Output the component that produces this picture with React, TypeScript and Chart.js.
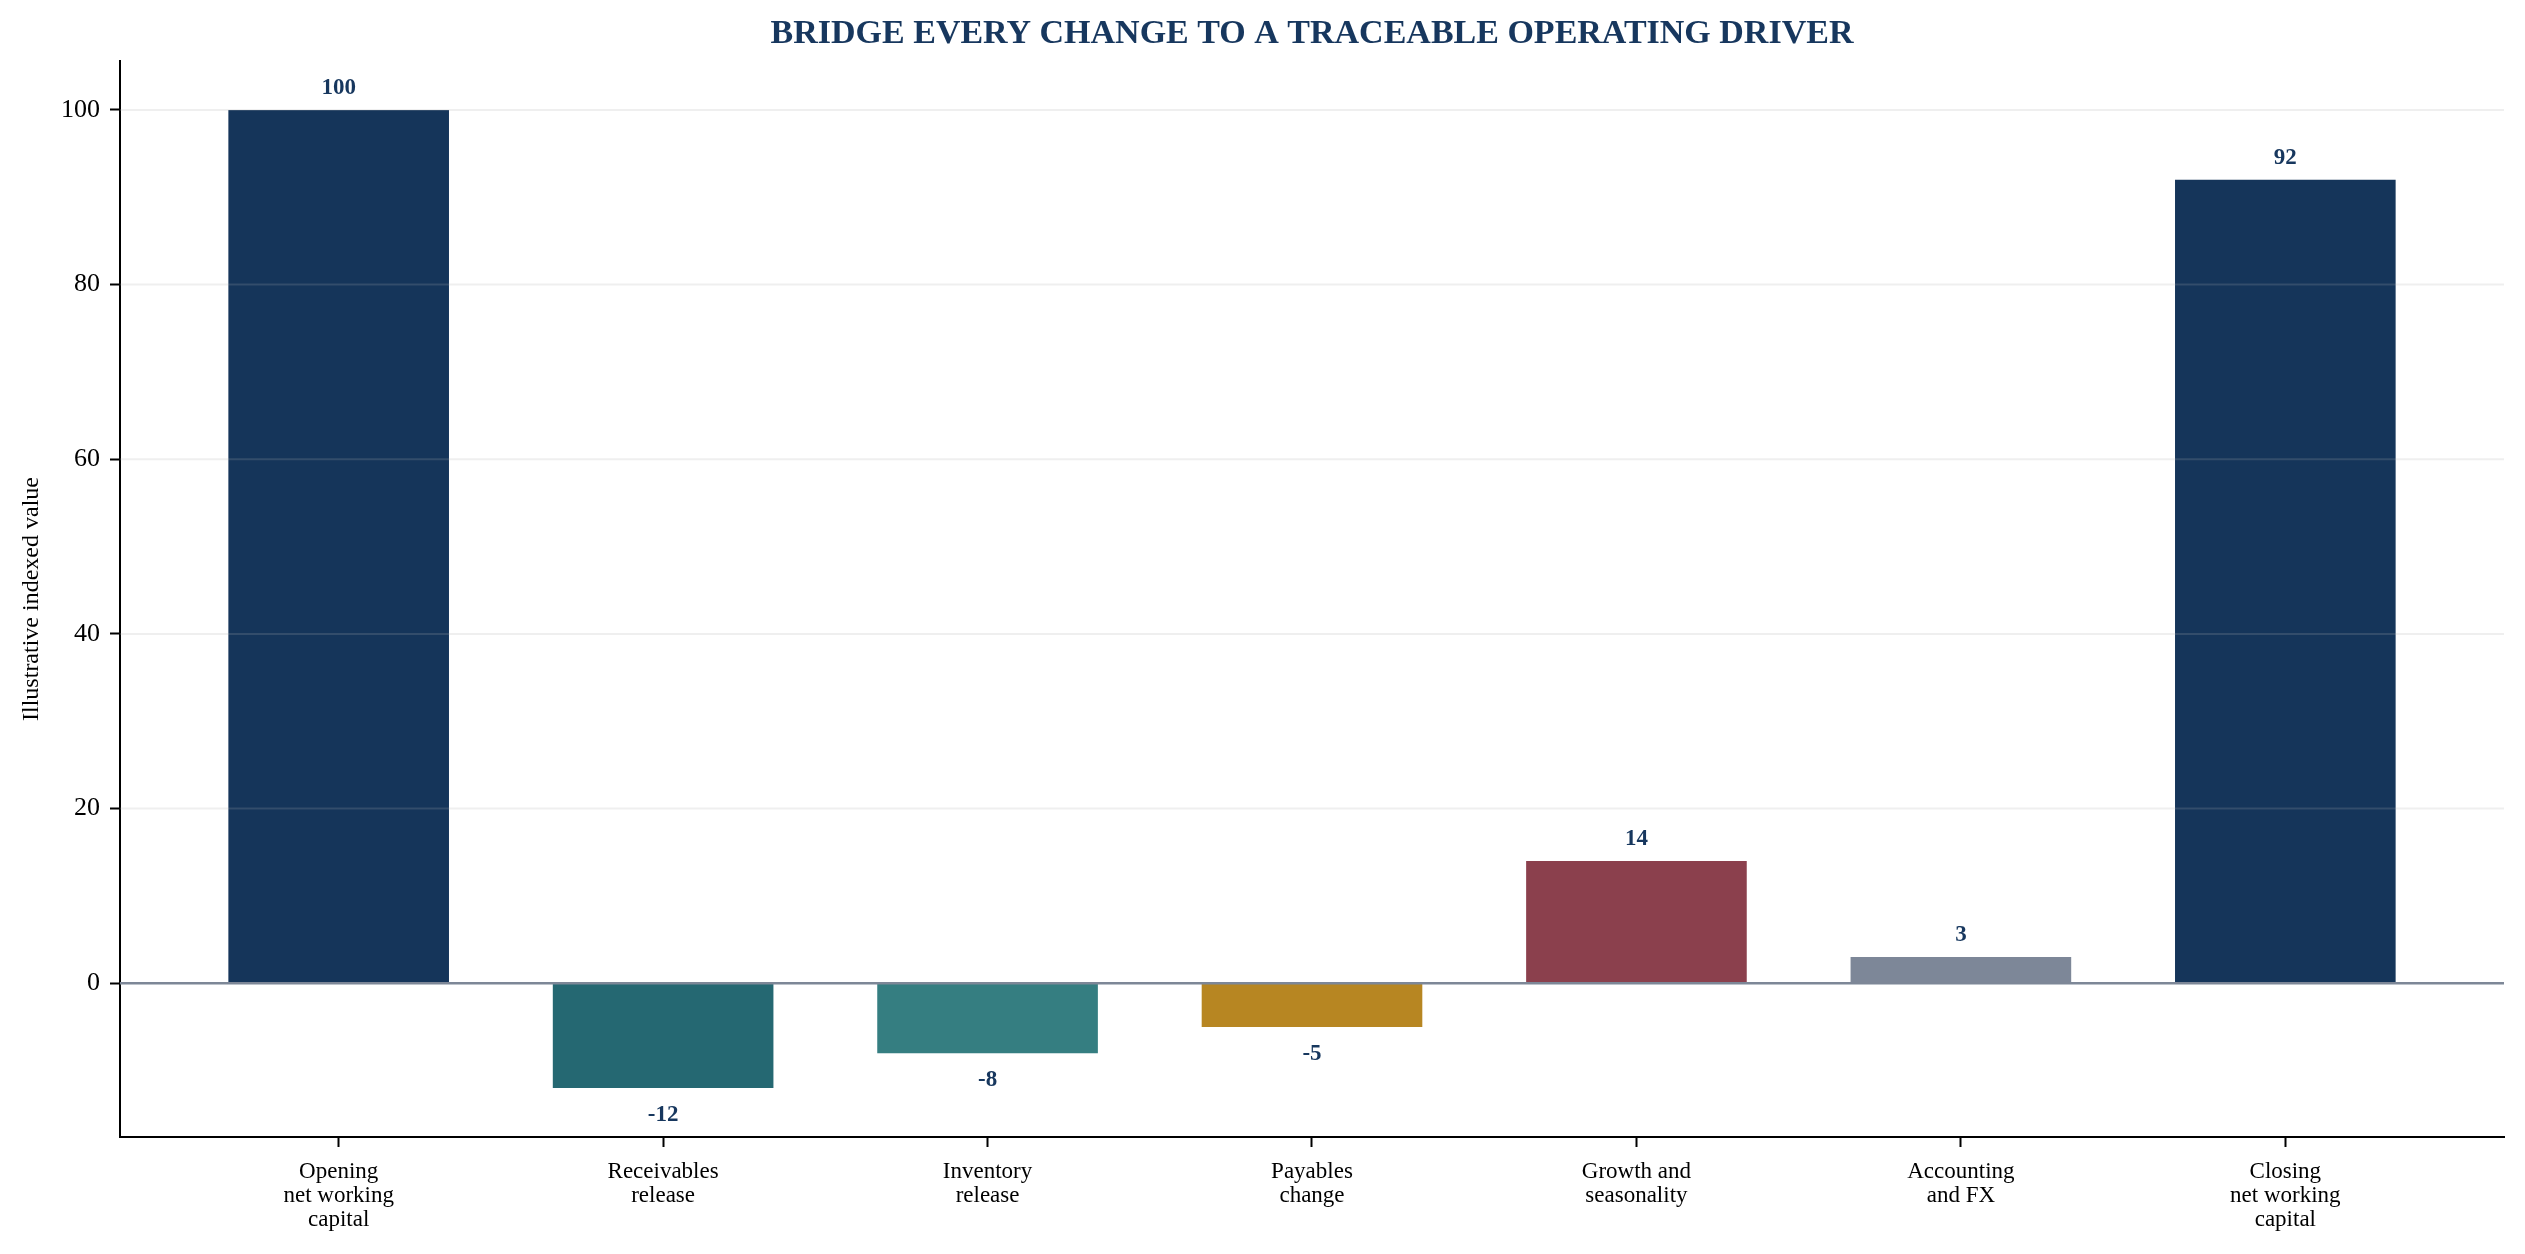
import React, { useEffect, useRef } from "react";
import { Chart, registerables } from "chart.js";

Chart.register(...registerables);

const TITLE = "BRIDGE EVERY CHANGE TO A TRACEABLE OPERATING DRIVER";
const Y_LABEL = "Illustrative indexed value";
const categories: string[][] = [
  ["Opening", "net working", "capital"],
  ["Receivables", "release"],
  ["Inventory", "release"],
  ["Payables", "change"],
  ["Growth and", "seasonality"],
  ["Accounting", "and FX"],
  ["Closing", "net working", "capital"],
];
const values: number[] = [100, -12, -8, -5, 14, 3, 92];
const barColors: string[] = ["#15355a", "#256872", "#357e81", "#b78622", "#8b404d", "#7d8798", "#15355a"];
const yTicks: number[] = [0, 20, 40, 60, 80, 100];

const SERIF = '"Liberation Serif", "Times New Roman", "DejaVu Serif", serif';
const NAVY = "#17375e";

export default function App() {
  const ref = useRef<HTMLCanvasElement | null>(null);

  useEffect(() => {
    if (!ref.current) return;
    const overlay = {
      id: "overlay",
      afterDatasetsDraw(chart: any) {
        const { ctx, chartArea, scales } = chart;
        const y = scales.y;
        ctx.save();
        ctx.strokeStyle = "rgba(176,176,176,0.2)";
        ctx.lineWidth = 2;
        yTicks.forEach((t) => {
          if (t === 0) return;
          const py = y.getPixelForValue(t);
          ctx.beginPath();
          ctx.moveTo(chartArea.left, py);
          ctx.lineTo(chartArea.right, py);
          ctx.stroke();
        });
        const z = y.getPixelForValue(0);
        ctx.strokeStyle = "#7d8797";
        ctx.lineWidth = 2.6;
        ctx.beginPath();
        ctx.moveTo(chartArea.left, z);
        ctx.lineTo(chartArea.right, z);
        ctx.stroke();
        const meta = chart.getDatasetMeta(0);
        ctx.fillStyle = NAVY;
        ctx.font = `bold 23px ${SERIF}`;
        ctx.textAlign = "center";
        ctx.textBaseline = "middle";
        meta.data.forEach((bar: any, i: number) => {
          const v = values[i];
          const py = v >= 0 ? bar.y - 22 : bar.y + 27;
          ctx.fillText(String(v), bar.x, py);
        });
        ctx.restore();
      },
    };

    const chart = new Chart(ref.current, {
      type: "bar",
      data: {
        datasets: [
          {
            data: values.map((v, i) => ({ x: i, y: v })),
            backgroundColor: barColors,
            borderWidth: 0,
            barPercentage: 0.68,
            categoryPercentage: 1,
          },
        ],
      },
      options: {
        animation: false,
        responsive: false,
        devicePixelRatio: 1,
        layout: { padding: { left: 0, right: 21, top: 0, bottom: 0 } },
        plugins: {
          legend: { display: false },
          tooltip: { enabled: false },
          title: {
            display: true,
            fullSize: false,
            text: TITLE,
            color: NAVY,
            font: { family: SERIF, size: 34, weight: "bold", lineHeight: 1.2 },
            padding: { top: 13.6, bottom: 6.6 },
          },
        },
        scales: {
          x: {
            type: "linear",
            min: -0.674,
            max: 6.674,
            offset: false,
            afterBuildTicks: (axis: any) => {
              axis.ticks = categories.map((_, i) => ({ value: i }));
            },
            afterFit: (axis: any) => {
              axis.height = 117;
            },
            grid: {
              offset: false,
              drawOnChartArea: false,
              drawTicks: true,
              tickLength: 10,
              tickWidth: 2,
              tickColor: "#000",
            },
            border: { display: true, color: "#000", width: 2 },
            ticks: {
              autoSkip: false,
              maxRotation: 0,
              minRotation: 0,
              padding: 13,
              color: "#000",
              font: { family: SERIF, size: 23, lineHeight: 1.05 },
              callback: (v: any) => categories[Number(v)] ?? "",
            },
          },
          y: {
            type: "linear",
            min: -17.6,
            max: 105.6,
            afterBuildTicks: (axis: any) => {
              axis.ticks = yTicks.map((t) => ({ value: t }));
            },
            afterFit: (axis: any) => {
              axis.width = 120;
            },
            grid: {
              drawOnChartArea: false,
              drawTicks: true,
              tickLength: 10,
              tickWidth: 2,
              tickColor: "#000",
            },
            border: { display: true, color: "#000", width: 2 },
            ticks: {
              padding: 10,
              color: "#000",
              font: { family: SERIF, size: 26 },
              callback: (v: any) => String(v),
            },
            title: {
              display: true,
              text: Y_LABEL,
              color: "#000",
              font: { family: SERIF, size: 24, lineHeight: 1.2 },
              padding: { top: 17, bottom: 0 },
            },
          },
        },
      },
      plugins: [overlay],
    } as any);
    return () => chart.destroy();
  }, []);

  return (
    <div style={{ position: "absolute", left: 0, top: 0, width: 2525, height: 1254, background: "#fff" }}>
      <canvas ref={ref} width={2525} height={1254} style={{ display: "block", width: 2525, height: 1254 }} />
    </div>
  );
}
